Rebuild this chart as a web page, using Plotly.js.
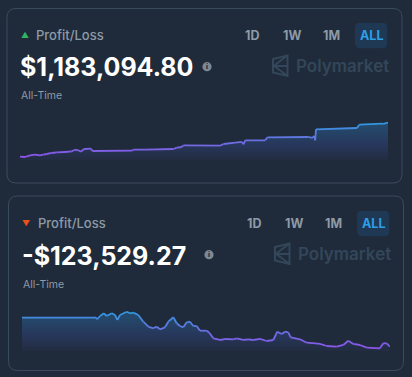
<!DOCTYPE html>
<html><head><meta charset="utf-8">
<script src="https://cdn.plot.ly/plotly-3.0.1.min.js"></script>
<style>html,body{margin:0;padding:0;background:#1f2b3a;}#c{width:412px;height:377px;}</style>
</head><body><div id="c"></div>
<script>
// ---- data ----
const titleText = "Profit/Loss";
const periodLabels = ["1D", "1W", "1M", "ALL"];
const subLabel = "All-Time";
const brandText = "Polymarket";
const totals = ["$1,183,094.80", "-$123,529.27"];

// chart 1: all-time P&L (USD) by day
const days1 = [0,5,10,15,20,23.3,26.7,31.7,36.7,45,51.7,55,58.3,61,64,71,72.3,111.7,113.3,125,153.3,156.7,161.7,163.3,200,203.3,215,221.7,223.3,225,245,247.3,288.3,291.7,294.3,295,295.7,336.7,339,361.7,363,367.7];
const pnl1 = [0,-10000,49000,70000,49000,70000,94000,129000,153000,164000,188000,244000,223000,174000,268000,278000,198000,209000,244000,244000,268000,313000,338000,397000,383000,442000,487000,512000,431000,571000,571000,675000,686000,651000,720000,571000,953000,999000,1114000,1148000,1138000,1183094.80];

// chart 2: all-time P&L (USD) by day
const days2 = [0,74,75.3,78,82,84.7,89.7,93,95.3,98,104.7,108,111.3,116.3,121.3,126.3,131.3,134.7,138,143,146.3,151.3,154.7,158,161.3,164.7,168,171.3,174.7,178,184.7,187.3,191.3,198,204,211.3,214.7,221.3,226,231.3,238,244.7,251.3,255.3,259.7,263,266.3,268.7,278,284.7,291,298,304.7,314.7,321.3,326.3,331.3,338,344.7,358,361.3,364.7,368];
const pnl2 = [0,0,-6800,7200,18700,7200,18700,11500,-9800,11500,25600,18700,21300,11500,-17000,-38300,-45200,-38300,-49400,-40900,-17000,1700,-23900,-35400,-40900,-19600,-17000,-35400,-35400,-55400,-55400,-63900,-87800,-95000,-90700,-92000,-87800,-95000,-92500,-95000,-90700,-99300,-95000,-59600,-69400,-59600,-62200,-83500,-92000,-106500,-108000,-112000,-120600,-123500,-116300,-98000,-112000,-116300,-127800,-130400,-109000,-109000,-123529.27];

// ---- layout helpers ----
const W = 412, H = 377;
const BG = "#1f2b3a";
const px = x => x / W, py = y => 1 - y / H;
function rrect(x0, y0, x1, y1, r) {
  const P = (x, y) => px(x) + "," + py(y);
  return "M" + P(x0 + r, y0) + " L" + P(x1 - r, y0) + " Q" + P(x1, y0) + " " + P(x1, y0 + r) +
    " L" + P(x1, y1 - r) + " Q" + P(x1, y1) + " " + P(x1 - r, y1) +
    " L" + P(x0 + r, y1) + " Q" + P(x0, y1) + " " + P(x0, y1 - r) +
    " L" + P(x0, y0 + r) + " Q" + P(x0, y0) + " " + P(x0 + r, y0) + " Z";
}
function hex2rgb(h) { return [1, 3, 5].map(i => parseInt(h.substr(i, 2), 16)); }
const lineStops = [[0, "#8d55e9"], [0.5, "#6872e2"], [1, "#2f99df"]];
function lineColor(t) {
  t = Math.max(0, Math.min(1, t));
  for (let i = 1; i < lineStops.length; i++) {
    if (t <= lineStops[i][0]) {
      const a = lineStops[i - 1], b = lineStops[i];
      const f = (t - a[0]) / (b[0] - a[0]);
      const ca = hex2rgb(a[1]), cb = hex2rgb(b[1]);
      return "rgb(" + ca.map((v, k) => Math.round(v + (cb[k] - v) * f)).join(",") + ")";
    }
  }
  return lineStops[lineStops.length - 1][1];
}

const charts = [
  {days: days1, pnl: pnl1, xa: "x", ya: "y", lo: -132000, hi: 1346000},
  {days: days2, pnl: pnl2, xa: "x2", ya: "y2", lo: -141900, hi: 41300}
];

const traces = [];
charts.forEach(c => {
  const mn = Math.min(...c.pnl), mx = Math.max(...c.pnl);
  // baseline at the bottom of the axis, then gradient fill up to the line
  traces.push({x: c.days, y: c.days.map(() => c.lo), xaxis: c.xa, yaxis: c.ya, mode: "lines",
    line: {width: 0}, hoverinfo: "skip", showlegend: false});
  traces.push({x: c.days, y: c.pnl, xaxis: c.xa, yaxis: c.ya, mode: "lines", fill: "tonexty",
    line: {width: 0}, hoverinfo: "skip", showlegend: false,
    fillgradient: {type: "vertical", start: c.lo, stop: c.hi,
      colorscale: [[0, "#222c40"], [0.35, "#27365a"], [0.75, "#25476a"], [1, "#234d70"]]}});
  for (let i = 0; i < c.days.length - 1; i++) {
    const t = ((c.pnl[i] + c.pnl[i + 1]) / 2 - mn) / (mx - mn);
    traces.push({x: [c.days[i], c.days[i + 1]], y: [c.pnl[i], c.pnl[i + 1]], xaxis: c.xa, yaxis: c.ya,
      mode: "lines", line: {width: 1.8, color: lineColor(t)}, hoverinfo: "skip", showlegend: false});
  }
});

const FONT = "Inter, 'Open Sans', sans-serif";
const GREY = "#8e9aa7";
const shapes = [], annotations = [];
const cards = [
  {dx: 0, dy: 0, box: [7, 8.5, 402, 183], tri: "▲", triColor: "#2fb561", total: totals[0]},
  {dx: 2, dy: 188, box: [8.5, 196, 403.5, 370.5], tri: "▼", triColor: "#e8501c", total: totals[1]}
];
const btnX = [251.7, 292.2, 331.7, 371.7];
cards.forEach(cd => {
  const dx = cd.dx, dy = cd.dy;
  shapes.push({type: "path", xref: "paper", yref: "paper", path: rrect(cd.box[0], cd.box[1], cd.box[2], cd.box[3], 9),
    line: {color: "#3a4b5c", width: 1}, fillcolor: "rgba(0,0,0,0)", layer: "below"});
  shapes.push({type: "path", xref: "paper", yref: "paper", path: rrect(355 + dx, 22.7 + dy, 387.3 + dx, 48.3 + dy, 5),
    line: {width: 0}, fillcolor: "#1f3853", layer: "below"});
  // info icon
  shapes.push({type: "circle", xref: "paper", yref: "paper", x0: px(202.4 + dx), x1: px(211.6 + dx),
    y0: py(71.3 + dy), y1: py(62.1 + dy), line: {width: 0}, fillcolor: "#7b8896"});
  // brand icon
  shapes.push({type: "path", xref: "paper", yref: "paper",
    path: "M" + px(273 + dx) + "," + py(59 + dy) + " L" + px(287.5 + dx) + "," + py(55.5 + dy) +
      " L" + px(287.5 + dx) + "," + py(76 + dy) + " L" + px(273 + dx) + "," + py(72.5 + dy) + " Z" +
      " M" + px(287.5 + dx) + "," + py(55.5 + dy) + " L" + px(274 + dx) + "," + py(65.8 + dy) +
      " L" + px(287.5 + dx) + "," + py(76 + dy) + " M" + px(274 + dx) + "," + py(65.8 + dy) + " L" + px(287.5 + dx) + "," + py(66 + dy),
    line: {color: "#33465a", width: 2}});

  const A = (text, x, y, size, color, weight, xanchor) => annotations.push({
    text: text, xref: "paper", yref: "paper", x: px(x), y: py(y), xanchor: xanchor || "left", yanchor: "middle",
    showarrow: false, font: {family: FONT, size: size, color: color, weight: weight || 400}});
  A(cd.tri, 24.7 + dx * 0.8, 35.3 + dy, 8, cd.triColor, 400, "center");
  A(titleText, 34 + dx, 35 + dy, 13, GREY, 500);
  periodLabels.forEach((l, i) => A(l, btnX[i] + dx, 35.5 + dy, 12.5, i === 3 ? "#2d9fe8" : GREY, 700, "center"));
  A(cd.total, 18 + dx, 67.5 + dy, 25, "#ffffff", 700);
  A("i", 207 + dx, 66.7 + dy, 7, BG, 800, "center");
  A(brandText, 342 + dx, 66 + dy, 17, "#33465a", 600, "center");
  A(subLabel, 19 + dx, 96 + dy, 10.5, GREY, 400);
});

const ax = (dom, rng, anchor) => ({domain: dom, range: rng, visible: false, fixedrange: true, anchor: anchor});
const layout = {
  width: W, height: H, margin: {l: 0, r: 0, t: 0, b: 0}, paper_bgcolor: BG, plot_bgcolor: "rgba(0,0,0,0)",
  showlegend: false,
  xaxis: ax([px(20), px(388)], [0, 367.7], "y"),
  yaxis: ax([py(160.5), py(118)], [charts[0].lo, charts[0].hi], "x"),
  xaxis2: ax([px(22), px(390)], [0, 368], "y2"),
  yaxis2: ax([py(351), py(308)], [charts[1].lo, charts[1].hi], "x2"),
  shapes: shapes, annotations: annotations
};
Plotly.newPlot("c", traces, layout, {staticPlot: true, displayModeBar: false});
</script></body></html>
